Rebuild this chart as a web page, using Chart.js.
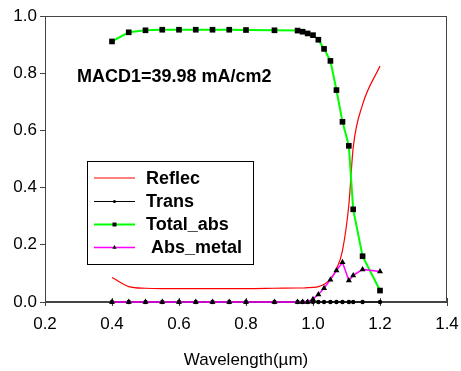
<!DOCTYPE html>
<html>
<head>
<meta charset="utf-8">
<script src="https://cdn.jsdelivr.net/npm/chart.js@4"></script>
<style>
    html, body { margin: 0; padding: 0; background: #fff; }
    #wrap { width: 461px; height: 371px; position: relative; }
</style>
</head>
<body>
<div id="wrap"><canvas id="absChart"></canvas></div>
<script>
// wavelength grid (um)
const wavelengths = [0.40, 0.45, 0.50, 0.55, 0.60, 0.65, 0.70, 0.75, 0.80, 0.885,
    0.954, 0.969, 0.984, 1.000, 1.016, 1.033, 1.052, 1.070, 1.088, 1.107, 1.120, 1.148, 1.200];

const reflec = [0.086, 0.054, 0.048, 0.047, 0.047, 0.047, 0.047, 0.047, 0.047, 0.048,
    0.049, 0.049, 0.050, 0.051, 0.054, 0.062, 0.080, 0.115, 0.180, 0.340, 0.540, 0.690, 0.825];

const trans = [0, 0, 0, 0, 0, 0, 0, 0, 0, 0,
    0, 0, 0, 0, 0, 0, 0, 0, 0, 0, 0, 0, 0];

const totalAbs = [0.911, 0.943, 0.950, 0.952, 0.952, 0.952, 0.952, 0.952, 0.951, 0.950,
    0.949, 0.945, 0.939, 0.933, 0.917, 0.885, 0.843, 0.741, 0.630, 0.546, 0.324, 0.160, 0.040];

const absMetal = [0, 0, 0, 0, 0, 0, 0, 0, 0, 0,
    0, 0, 0, 0.010, 0.026, 0.048, 0.078, 0.110, 0.139, 0.075, 0.093, 0.114, 0.107];

const seriesNames = ['Reflec', 'Trans', 'Total_abs', ' Abs_metal'];
const xTicks = [0.2, 0.4, 0.6, 0.8, 1.0, 1.2, 1.4];
const yTicks = [0.0, 0.2, 0.4, 0.6, 0.8, 1.0];
const noteText = 'MACD1=39.98 mA/cm2';

const FONT = '"Liberation Sans", Arial, sans-serif';

function pairs(ys) {
    return wavelengths.map((x, i) => ({ x: x, y: ys[i] }));
}

// frame round the plot area, plus x ticks that cross the axis
const framePlugin = {
    id: 'frame',
    beforeDatasetsDraw(chart) {
        const a = chart.chartArea;
        const ctx = chart.ctx;
        const xs = chart.scales.x;
        ctx.save();
        ctx.strokeStyle = '#444';
        ctx.lineWidth = 1;
        ctx.strokeRect(a.left + 0.5, a.top + 0.5, a.right - a.left - 1, a.bottom - a.top - 1);
        ctx.beginPath();
        xTicks.forEach(v => {
            const px = Math.round(xs.getPixelForValue(v)) + 0.5;
            ctx.moveTo(px, a.bottom - 4);
            ctx.lineTo(px, a.bottom);
        });
        ctx.stroke();
        ctx.restore();
    }
};

// boxed legend inside the plot + the MACD note
const boxLegendPlugin = {
    id: 'boxLegend',
    afterDraw(chart) {
        const ctx = chart.ctx;
        ctx.save();

        ctx.fillStyle = '#000';
        ctx.font = 'bold 18px ' + FONT;
        ctx.textBaseline = 'alphabetic';
        ctx.textAlign = 'left';
        ctx.fillText(noteText, 77, 82);

        const bx = 87.5, by = 161.5, bw = 166, bh = 103;
        ctx.fillStyle = '#fff';
        ctx.fillRect(bx, by, bw, bh);
        ctx.strokeStyle = '#000';
        ctx.lineWidth = 1;
        ctx.strokeRect(bx, by, bw, bh);

        const rows = [178, 201.5, 224.5, 247.5];
        chart.data.datasets.forEach((ds, i) => {
            const y = rows[i];
            ctx.strokeStyle = ds.borderColor;
            ctx.lineWidth = ds.borderWidth;
            ctx.beginPath();
            ctx.moveTo(94, y);
            ctx.lineTo(135, y);
            ctx.stroke();
            if (ds.pointRadius > 0) {
                ctx.fillStyle = '#000';
                ctx.strokeStyle = '#000';
                Chart.helpers.drawPoint(ctx, {
                    pointStyle: ds.pointStyle,
                    radius: ds.pointRadius * 0.7,
                    borderWidth: 0
                }, 114.5, y);
            }
            ctx.fillStyle = '#000';
            ctx.font = 'bold 18px ' + FONT;
            ctx.textBaseline = 'middle';
            ctx.fillText(seriesNames[i], 146, y + 1);
        });
        ctx.restore();
    }
};

const ctx = document.getElementById('absChart').getContext('2d');
const absChart = new Chart(ctx, {
    type: 'line',
    data: {
        datasets: [{
            label: seriesNames[0],
            data: pairs(reflec),
            borderColor: '#ff0000',
            borderWidth: 1.2,
            pointRadius: 0,
            cubicInterpolationMode: 'monotone',
            clip: false,
            order: 3
        }, {
            label: seriesNames[1],
            data: pairs(trans),
            borderColor: '#000000',
            backgroundColor: '#000000',
            borderWidth: 1.2,
            pointStyle: 'circle',
            pointRadius: 2.2,
            pointBorderWidth: 0,
            clip: false,
            order: 2
        }, {
            label: seriesNames[2],
            data: pairs(totalAbs),
            borderColor: '#00ff00',
            backgroundColor: '#000000',
            pointBorderColor: '#000000',
            borderWidth: 2,
            pointStyle: 'rect',
            pointRadius: 4,
            pointBorderWidth: 0,
            clip: false,
            order: 1
        }, {
            label: seriesNames[3],
            data: pairs(absMetal),
            borderColor: '#ff00ff',
            backgroundColor: '#000000',
            pointBorderColor: '#000000',
            borderWidth: 1.5,
            pointStyle: 'triangle',
            pointRadius: 3.5,
            pointBorderWidth: 0,
            clip: false,
            order: 0
        }]
    },
    options: {
        responsive: true,
        maintainAspectRatio: false,
        animation: false,
        layout: {
            padding: { top: 16, right: 14, left: 0, bottom: 0 }
        },
        plugins: {
            legend: { display: false },
            tooltip: { enabled: false }
        },
        scales: {
            x: {
                type: 'linear',
                min: 0.2,
                max: 1.4,
                afterFit: function(scale) {
                    scale.height = 69;
                    scale.paddingLeft = 0;
                    scale.paddingRight = 0;
                },
                afterBuildTicks: function(scale) {
                    scale.ticks = xTicks.map(v => ({ value: v }));
                },
                ticks: {
                    color: '#000',
                    font: { family: FONT, size: 17 },
                    padding: 8,
                    maxRotation: 0,
                    callback: v => v.toFixed(1)
                },
                grid: {
                    drawOnChartArea: false,
                    tickLength: 4,
                    color: '#444'
                },
                border: { display: true, color: '#444', width: 1 },
                title: {
                    display: true,
                    text: 'Wavelength(\u00b5m)',
                    color: '#000',
                    font: { family: FONT, size: 17 },
                    padding: { top: 4, bottom: 0 }
                }
            },
            y: {
                min: 0,
                max: 1,
                afterFit: function(scale) { scale.width = 45; },
                afterBuildTicks: function(scale) {
                    scale.ticks = yTicks.map(v => ({ value: v }));
                },
                ticks: {
                    color: '#000',
                    font: { family: FONT, size: 17 },
                    padding: 3,
                    callback: v => v.toFixed(1)
                },
                grid: {
                    drawOnChartArea: false,
                    tickLength: 5,
                    color: '#444'
                },
                border: { display: true, color: '#444', width: 1 }
            }
        }
    },
    plugins: [framePlugin, boxLegendPlugin]
});
</script>
</body>
</html>
